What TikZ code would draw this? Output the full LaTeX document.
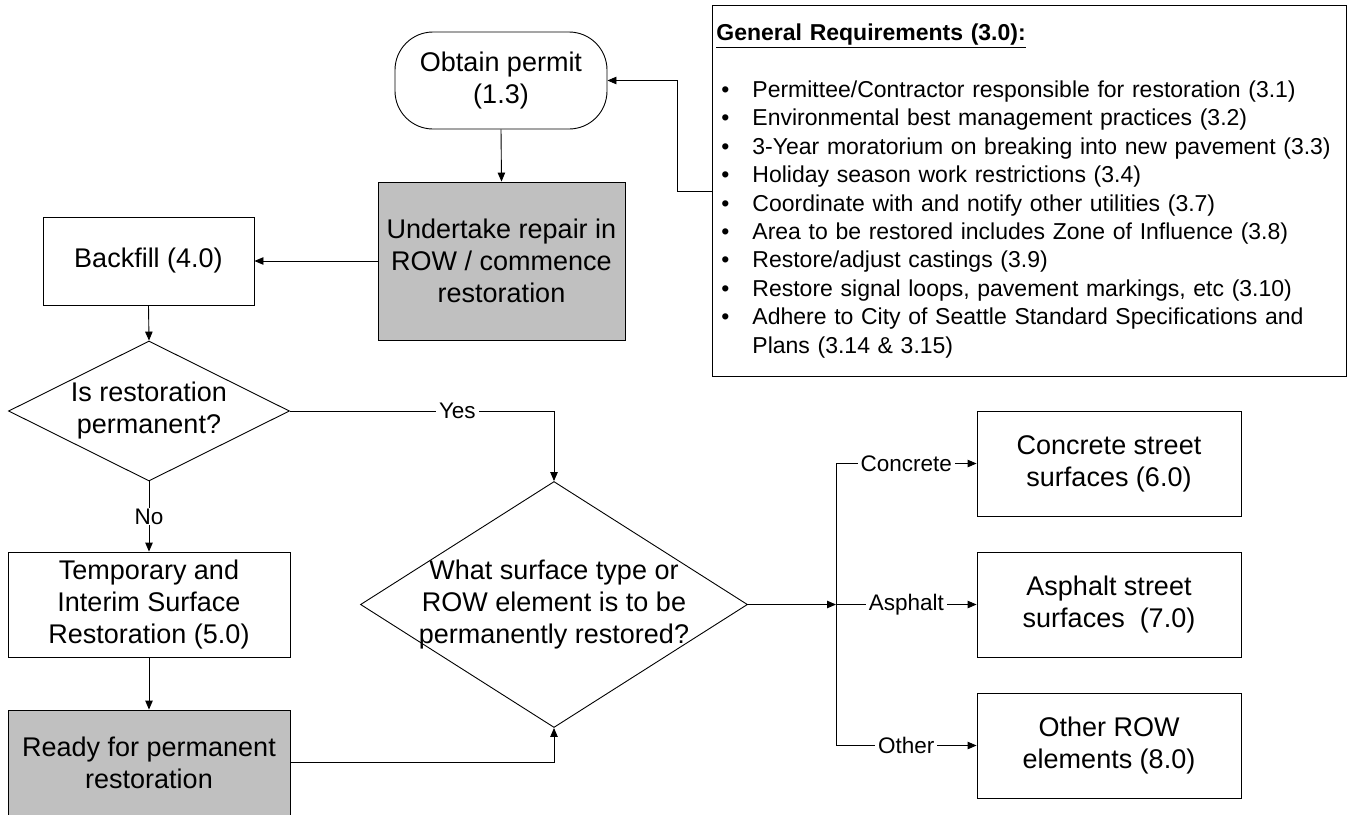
\documentclass[tikz,border=0pt]{standalone}
\usepackage{fontspec}
\setmainfont{Liberation Sans}
\usetikzlibrary{shapes.geometric, arrows.meta, positioning}
\definecolor{stepgray}{HTML}{C0C0C0}
\newcommand{\reqitem}[1]{\makebox[36pt][l]{\hspace{5pt}\textbullet}#1}

\begin{document}
\begin{tikzpicture}[x=1pt, y=-1pt, line width=0.9pt,
    box/.style={draw, rectangle, align=center, inner sep=0pt, font=\fontsize{27}{32}\selectfont},
    decision/.style={draw, diamond, inner sep=0pt,
        label={[align=center, font=\fontsize{27}{32}\selectfont]center:#1}},
    flow/.style={draw, -{Triangle[length=9pt, width=7.5pt]}},
    lbl/.style={fill=white, inner xsep=3pt, inner ysep=1pt, font=\fontsize{22.5}{27}\selectfont}]
    \useasboundingbox (0,0) rectangle (1348,814);

    \node[box, rounded corners=38pt, minimum width=212pt, minimum height=97pt] (permit) at (501,80.5) {Obtain permit\\(1.3)};
    \node[box, fill=stepgray, minimum width=247pt, minimum height=158pt] (repair) at (501.5,261) {Undertake repair in\\ROW / commence\\restoration};
    \node[box, minimum width=211pt, minimum height=88pt] (backfill) at (148.5,261) {Backfill (4.0)};
    \node[decision={Is restoration\\permanent?}, minimum width=281pt, minimum height=140pt] (isperm) at (149,411) {};
    \node[box, minimum width=282pt, minimum height=105pt] (temp) at (149,604.5) {Temporary and\\Interim Surface\\Restoration (5.0)};
    \node[box, fill=stepgray, minimum width=282pt, minimum height=105pt] (ready) at (149,762.5) {Ready for permanent\\restoration};
    \node[decision={What surface type or\\ROW element is to be\\permanently restored?}, minimum width=387pt, minimum height=246pt] (surface) at (554,604.5) {};
    \node[box, minimum width=264pt, minimum height=105pt] (conc) at (1109,463.5) {Concrete street\\surfaces (6.0)};
    \node[box, minimum width=264pt, minimum height=105pt] (asph) at (1109,604.5) {Asphalt street\\surfaces~~(7.0)};
    \node[box, minimum width=264pt, minimum height=105pt] (other) at (1109,745.5) {Other ROW\\elements (8.0)};

    \node[draw, anchor=north west, align=left, inner xsep=4pt, inner ysep=0pt, text width=626pt, minimum height=371pt,
          font=\fontsize{23}{28.4}\selectfont] (req) at (712,5) {%
        \textbf{\underline{General Requirements (3.0):}}\\[28.4pt]
        \reqitem{Permittee/Contractor responsible for restoration (3.1)}\\
        \reqitem{Environmental best management practices (3.2)}\\
        \reqitem{3-Year moratorium on breaking into new pavement (3.3)}\\
        \reqitem{Holiday season work restrictions (3.4)}\\
        \reqitem{Coordinate with and notify other utilities (3.7)}\\
        \reqitem{Area to be restored includes Zone of Influence (3.8)}\\
        \reqitem{Restore/adjust castings (3.9)}\\
        \reqitem{Restore signal loops, pavement markings, etc (3.10)}\\
        \reqitem{Adhere to City of Seattle Standard Specifications and}\\
        \hspace*{36pt}Plans (3.14 \& 3.15)};

    \coordinate (split) at (836,604.5);

    \draw[flow] (req.west) -- ++(-35,0) |- (permit.east);
    \draw[flow] (permit.south) -- (repair.north);
    \draw[flow] (repair.west) -- (backfill.east);
    \draw[flow] (backfill.south) -- (isperm.north);
    \draw[flow] (isperm.south) -- node[lbl] {No} (temp.north);
    \draw[flow] (isperm.east) -| node[lbl, pos=0.317] {Yes} (surface.north);
    \draw[flow] (temp.south) -- (ready.north);
    \draw[flow] (ready.east) -| (surface.south);
    \draw[flow] (surface.east) -- (split);
    \draw (split |- conc.west) -- (split |- other.west);
    \foreach \name/\kind in {conc/Concrete, asph/Asphalt, other/Other}
        \draw[flow] (split |- \name.west) -- node[lbl] {\kind} (\name.west);
\end{tikzpicture}
\end{document}
